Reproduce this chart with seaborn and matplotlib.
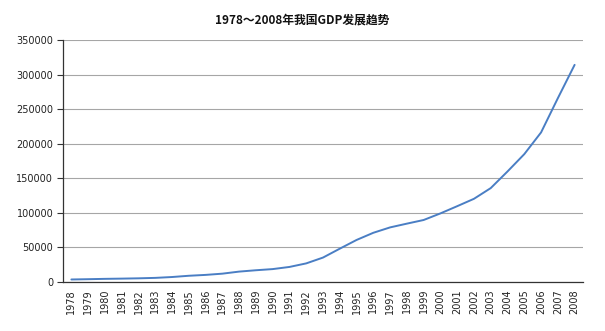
import matplotlib
matplotlib.use("Agg")
import matplotlib.pyplot as plt
import seaborn as sns
import numpy as np
import pandas as pd

years = [str(y) for y in range(1978, 2009)]
gdp = [3645, 4063, 4546, 4892, 5323, 5963, 7208, 9016, 10275, 12059,
       15043, 16992, 18668, 21781, 26923, 35334, 48198, 60794, 71177, 78973,
       84402, 89677, 99215, 109655, 120333, 135823, 159878, 184937, 216314,
       265810, 314045]
y_ticks = [0, 50000, 100000, 150000, 200000, 250000, 300000, 350000]
title = "1978～2008年我国GDP发展趋势"

sns.set_style("white")
plt.rcParams['font.family'] = ['DejaVu Sans', 'Noto Sans CJK SC']

df = pd.DataFrame({"idx": np.arange(len(years)), "gdp": gdp})

fig = plt.figure(figsize=(6.05, 3.31), dpi=100)
ax = fig.add_axes([63/605, 1-282/331, (583-63)/605, (282-40)/331])
sns.lineplot(data=df, x="idx", y="gdp", ax=ax, color="#4a7ec4", linewidth=1.4)

ax.set_xlim(-0.5, len(years) - 0.5)
ax.set_ylim(0, 350000)
ax.set_yticks(y_ticks)
ax.set_yticklabels([str(v) for v in y_ticks], fontsize=7, color="#222222")
ax.set_xticks(np.arange(len(years)))
ax.set_xticklabels(years, rotation=90, fontsize=7, color="#222222")
ax.set_xticks(np.arange(len(years) + 1) - 0.5, minor=True)
ax.tick_params(axis="x", which="major", length=0, pad=5)
ax.tick_params(axis="x", which="minor", length=4, width=0.8, color="#333333", direction="out")
ax.tick_params(axis="y", length=4, width=0.8, color="#333333", direction="out", left=True, pad=3)
ax.grid(axis="y", color="#a6a6a6", linewidth=0.8)
ax.set_axisbelow(True)
for s in ["top", "right"]:
    ax.spines[s].set_visible(False)
for s in ["left", "bottom"]:
    ax.spines[s].set_color("#333333")
    ax.spines[s].set_linewidth(0.9)
ax.set_xlabel("")
ax.set_ylabel("")
fig.text(0.5, 1-20/331, title, ha="center", va="center", fontsize=8.5,
         fontweight="bold", color="#111111", family=['Noto Sans CJK SC', 'DejaVu Sans'])
fig.savefig("out.png", dpi=100, facecolor="white")
